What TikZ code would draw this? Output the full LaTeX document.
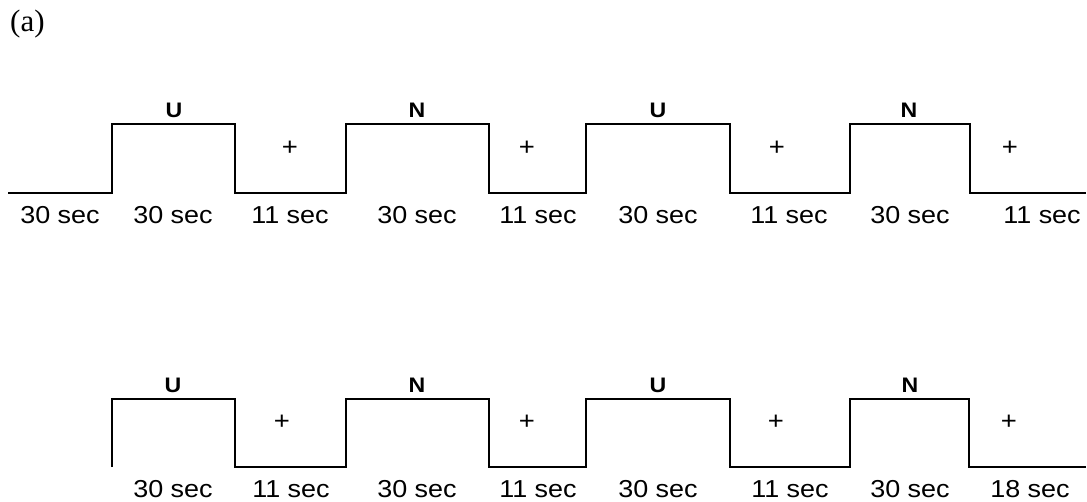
\documentclass[tikz,border=0pt]{standalone}
\usepackage{fontspec}
\setmainfont{Liberation Serif}
\newfontfamily\arial[FakeStretch=1.1]{Liberation Sans}
\begin{document}
\begin{tikzpicture}[x=1pt,y=-1pt,
  wave/.style={line width=2pt, line join=miter},
  dur/.style={font=\arial\fontsize{24.5}{30}\selectfont, anchor=base, inner sep=0pt},
  cond/.style={font=\arial\bfseries\fontsize{21}{25}\selectfont, anchor=base, inner sep=0pt},
  plus/.style={font=\arial\fontsize{25}{30}\selectfont, anchor=base, inner sep=0pt}]
\useasboundingbox (0,0) rectangle (1087,501);

\node[font=\fontsize{31}{36}\selectfont, anchor=base west, inner sep=0pt] (lbl) at (10,31) {(a)};

% top row
\draw[wave] (8,193) -- (112,193) -- (112,124) -- (235,124) -- (235,193) -- (346,193)
  -- (346,124) -- (489,124) -- (489,193) -- (586,193) -- (586,124) -- (730,124)
  -- (730,193) -- (850,193) -- (850,124) -- (970,124) -- (970,193) -- (1086,193);

\node[cond] (tu1) at (174,117) {U};
\node[cond] (tn1) at (417,117) {N};
\node[cond] (tu2) at (658,117) {U};
\node[cond] (tn2) at (909,117) {N};

\node[plus] (tp1) at (290,155.5) {+};
\node[plus] (tp2) at (527,155.5) {+};
\node[plus] (tp3) at (777,155.5) {+};
\node[plus] (tp4) at (1010,155.5) {+};

\node[dur] (td1) at (60,223) {30 sec};
\node[dur] (td2) at (173,223) {30 sec};
\node[dur] (td3) at (290,223) {11 sec};
\node[dur] (td4) at (417,223) {30 sec};
\node[dur] (td5) at (538,223) {11 sec};
\node[dur] (td6) at (658,223) {30 sec};
\node[dur] (td7) at (789,223) {11 sec};
\node[dur] (td8) at (910,223) {30 sec};
\node[dur] (td9) at (1042,223) {11 sec};

% bottom row
\draw[wave] (112,467) -- (112,399) -- (235,399) -- (235,467) -- (346,467)
  -- (346,399) -- (489,399) -- (489,467) -- (586,467) -- (586,399) -- (730,399)
  -- (730,467) -- (850,467) -- (850,399) -- (969,399) -- (969,467) -- (1086,467);

\node[cond] (bu1) at (173,392) {U};
\node[cond] (bn1) at (417,392) {N};
\node[cond] (bu2) at (658,392) {U};
\node[cond] (bn2) at (910,392) {N};

\node[plus] (bp1) at (282,429) {+};
\node[plus] (bp2) at (527,429) {+};
\node[plus] (bp3) at (776,429) {+};
\node[plus] (bp4) at (1009,429) {+};

\node[dur] (bd1) at (173,497) {30 sec};
\node[dur] (bd2) at (291,497) {11 sec};
\node[dur] (bd3) at (417,497) {30 sec};
\node[dur] (bd4) at (538,497) {11 sec};
\node[dur] (bd5) at (658,497) {30 sec};
\node[dur] (bd6) at (790,497) {11 sec};
\node[dur] (bd7) at (910,497) {30 sec};
\node[dur] (bd8) at (1030,497) {18 sec};
\end{tikzpicture}
\end{document}
